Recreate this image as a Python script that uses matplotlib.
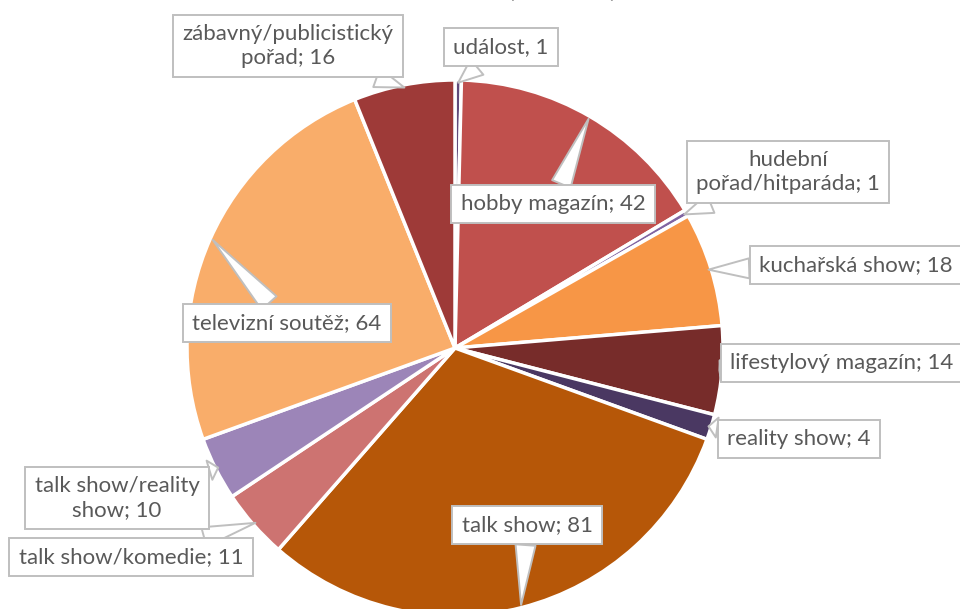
import numpy as np
import matplotlib.pyplot as plt

plt.rcParams['font.family'] = ['Lato', 'DejaVu Sans']

# data, clockwise from 12 o'clock
categories = ["událost", "hobby magazín", "hudební\npořad/hitparáda", "kuchařská show",
              "lifestylový magazín", "reality show", "talk show", "talk show/komedie",
              "talk show/reality\nshow", "televizní soutěž", "zábavný/publicistický\npořad"]
values = [1, 42, 1, 18, 14, 4, 81, 11, 10, 64, 16]
separators = [",", ";", ";", ";", ";", ";", ";", ";", ";", ";", ";"]
colors = ["#604A7B", "#C0504D", "#8064A2", "#F79646", "#772C2A", "#4A3862",
          "#B65708", "#CD7371", "#9C85B8", "#F9AD6A", "#9E3A38"]
title_text = "(N = 262)"

# label box centres in pixels (x from left, y from top)
label_px = [(501, 47), (553, 204), (788, 172), (856, 265), (842, 363), (799, 439),
            (527, 525), (131, 557), (117, 498), (287, 323), (288, 46)]

W, H = 960, 609
CX, CY, R = 455, 348, 268


def px(x, y):
    return ((x - CX) / R, (CY - y) / R)


fig = plt.figure(figsize=(W / 100, H / 100), dpi=100)
ax = fig.add_axes([0, 0, 1, 1])
wedges, _ = ax.pie(values, colors=colors, startangle=90, counterclock=False, radius=1,
                   wedgeprops={"edgecolor": "white", "linewidth": 2.5})
ax.set_xlim(px(0, 0)[0], px(W, 0)[0])
ax.set_ylim(px(0, H)[1], px(0, 0)[1])
ax.axis("off")

for w, cat, v, sep, pos in zip(wedges, categories, values, separators, label_px):
    mid = np.deg2rad((w.theta1 + w.theta2) / 2)
    tip = (0.99 * np.cos(mid), 0.99 * np.sin(mid))
    ax.annotate(f"{cat}{sep} {v}", xy=tip, xytext=px(*pos), textcoords="data",
                ha="center", va="center", fontsize=16, color="#595959",
                linespacing=1.2, annotation_clip=False,
                bbox=dict(boxstyle="square,pad=0.42", fc="white", ec="#BFBFBF", lw=1.4),
                arrowprops=dict(arrowstyle="wedge,tail_width=0.9,shrink_factor=0.5",
                                fc="white", ec="#BFBFBF", lw=1.4,
                                shrinkA=0, shrinkB=0))

fig.text(563 / W, 1 + 3 / H, title_text, ha="center", va="baseline",
         fontsize=19, color="#595959")

fig.savefig("out.png", dpi=100)
plt.close(fig)
